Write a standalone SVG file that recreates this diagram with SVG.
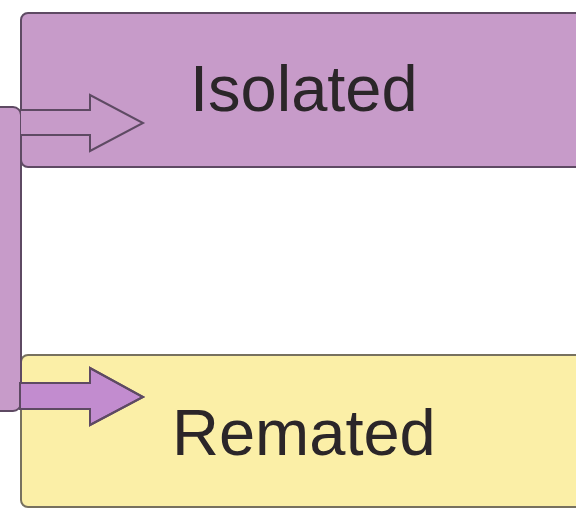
<svg xmlns="http://www.w3.org/2000/svg" width="576" height="509" viewBox="0 0 576 509">
  <style>
    .purple { fill: #c79bc9; stroke: #5e4a63; stroke-width: 2; }
    .yellow { fill: #fbefa7; stroke: #77715f; stroke-width: 2; }
    .arrow { stroke: #5e4a63; stroke-width: 2; stroke-linejoin: miter; }
    .label { font-family: "Liberation Sans", Arial, sans-serif; font-size: 65px; fill: #2b2629; }
  </style>
  <rect width="576" height="509" fill="#ffffff"/>

  <g id="isolated">
    <rect class="purple" x="21" y="13" width="562" height="154" rx="7"/>
    <text class="label" x="190" y="111">Isolated</text>
  </g>

  <g id="remated">
    <rect class="yellow" x="21" y="355" width="562" height="152" rx="7"/>
    <text class="label" x="172" y="455">Remated</text>
  </g>

  <g id="source">
    <rect class="purple" x="-12" y="107" width="33" height="304" rx="8"/>
  </g>

  <g id="connectors">
    <path class="arrow" fill="#c79bc9" d="M21 110 H90 V95 L143 123 L90 151 V135 H21"/>
    <path class="arrow" fill="#c28ccf" d="M20 383 H90 V368 L143 397 L90 425 V409 H20 Z" stroke="none"/>
    <path class="arrow" fill="none" d="M21 383 H90 V368 L143 397 L90 425 V409 H21"/>
  </g>
</svg>
